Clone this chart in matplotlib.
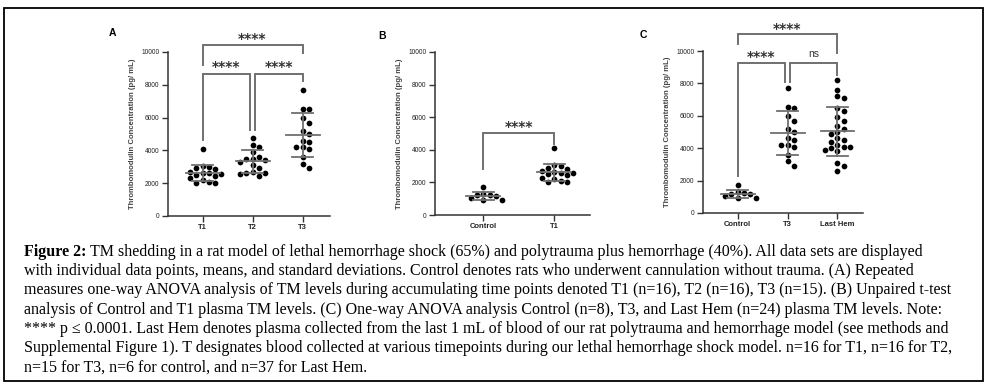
import numpy as np
import matplotlib
matplotlib.use("Agg")
import matplotlib.pyplot as plt
from matplotlib.patches import Rectangle

# ---------------- data ----------------
t1 = [4100, 3050, 3000, 2900, 2850, 2700, 2650, 2600, 2550, 2500, 2450, 2300, 2200, 2100, 2000, 2000]
t2 = [4750, 4300, 4200, 3900, 3600, 3500, 3450, 3400, 3300, 3100, 2900, 2700, 2650, 2600, 2550, 2450]
t3 = [7700, 6550, 6500, 6000, 5700, 5200, 5000, 4600, 4500, 4200, 4200, 4100, 3600, 3200, 2900]
control = [1700, 1300, 1250, 1200, 1150, 1050, 950, 900]
last_hem = [8200, 7600, 7200, 7100, 6500, 6300, 5900, 5700, 5400, 5200, 5000, 4900, 4600,
            4500, 4400, 4200, 4100, 4100, 4000, 3900, 3800, 3100, 2900, 2600]

cats_a = ["T1", "T2", "T3"]
cats_b = ["Control", "T1"]
cats_c = ["Control", "T3", "Last Hem"]
yticks = [0, 2000, 4000, 6000, 8000, 10000]
ylabel = "Thrombomodulin Concentration (pg/ mL)"

caption_lines = [
    "TM shedding in a rat model of lethal hemorrhage shock (65%) and polytrauma plus hemorrhage (40%). All data sets are displayed",
    "with individual data points, means, and standard deviations. Control denotes rats who underwent cannulation without trauma. (A) Repeated",
    "measures one-way ANOVA analysis of TM levels during accumulating time points denoted T1 (n=16), T2 (n=16), T3 (n=15). (B) Unpaired t-test",
    "analysis of Control and T1 plasma TM levels. (C) One-way ANOVA analysis Control (n=8), T3, and Last Hem (n=24) plasma TM levels. Note:",
    "**** p \u2264 0.0001. Last Hem denotes plasma collected from the last 1 mL of blood of our rat polytrauma and hemorrhage model (see methods and",
    "Supplemental Figure 1). T designates blood collected at various timepoints during our lethal hemorrhage shock model. n=16 for T1, n=16 for T2,",
    "n=15 for T3, n=6 for control, and n=37 for Last Hem.",
]

W, H = 992, 386
fig = plt.figure(figsize=(W / 100, H / 100), dpi=100)
fig.patch.set_facecolor("white")

GRAY = "#707070"
FONT = "Liberation Sans"


def px_axes(l, r, t, b):
    return fig.add_axes([l / W, 1 - b / H, (r - l) / W, (b - t) / H])


def swarm_offsets(vals, px_per_x, px_per_y, d):
    vals = np.asarray(vals, float)
    order = np.argsort(-vals)
    placed = []
    offs = np.zeros(len(vals))
    cand = [0.0]
    for k in range(1, 14):
        cand += [k * d * 0.5, -k * d * 0.5]
    for i in order:
        ypx = vals[i] * px_per_y
        for c in cand:
            ok = True
            for (px, py) in placed:
                if (px - c) ** 2 + (py - ypx) ** 2 < d ** 2:
                    ok = False
                    break
            if ok:
                offs[i] = c
                placed.append((c, ypx))
                break
    return offs / px_per_x


def panel(box, cats, groups, xlim, letter, letter_xy, mean_half_px):
    l, r, t, b = box
    ax = px_axes(l, r, t, b)
    ax.set_xlim(*xlim)
    ax.set_ylim(0, 10000)
    px_per_x = (r - l) / (xlim[1] - xlim[0])
    px_per_y = (b - t) / 10000
    d = 6.2
    mh = mean_half_px / px_per_x
    sh = (mean_half_px * 0.6) / px_per_x
    for i, g in enumerate(groups):
        g = np.asarray(g, float)
        offs = swarm_offsets(g, px_per_x, px_per_y, d)
        ax.scatter(i + offs, g, s=17, color="black", zorder=3, linewidths=0)
        m, sd = g.mean(), g.std(ddof=1)
        ax.plot([i - mh, i + mh], [m, m], color=GRAY, lw=1.3, zorder=4)
        ax.plot([i, i], [m - sd, m + sd], color=GRAY, lw=1.3, zorder=4)
        for yy in (m - sd, m + sd):
            ax.plot([i - sh, i + sh], [yy, yy], color=GRAY, lw=1.3, zorder=4)
    ax.set_xticks(range(len(cats)))
    ax.set_xticklabels(cats, fontsize=5.5, fontweight="bold", family=FONT, color="#222222")
    ax.set_yticks(yticks)
    ax.set_yticklabels([str(v) for v in yticks], fontsize=4.8, family=FONT, color="#222222")
    ax.set_ylabel(ylabel, fontsize=5.6, family=FONT, fontweight="bold", color="#444444", labelpad=4)
    for s in ("top", "right"):
        ax.spines[s].set_visible(False)
    for s in ("left", "bottom"):
        ax.spines[s].set_linewidth(1.1)
        ax.spines[s].set_color("#333333")
    ax.tick_params(length=4, width=1.0, color="#333333", pad=2)
    ax.set_facecolor("none")
    fig.text(letter_xy[0] / W, 1 - letter_xy[1] / H, letter, fontsize=7.5, fontweight="bold",
             family=FONT, ha="center", va="center")
    return ax


def bracket(ax, x1, x2, yh, y1, y2, label, ylab, fs=10):
    ax.plot([x1, x1, x2, x2], [y1, yh, yh, y2], color=GRAY, lw=1.4, clip_on=False,
            solid_joinstyle="miter")
    if label == "ns":
        ax.text((x1 + x2) / 2, ylab, label, ha="center", va="center", fontsize=7.5,
                family=FONT, color="#333333", clip_on=False)
    else:
        ax.text((x1 + x2) / 2, ylab, label, ha="center", va="center", fontsize=fs,
                family="DejaVu Sans", fontweight="bold", color="#333333", clip_on=False)


# Panel A
axA = panel((168, 330, 52, 216), cats_a, [t1, t2, t3], (-0.69, 2.55), "A", (112, 33), 17)
bracket(axA, 0, 2, 10430, 9210, 9940, "****", 10780)
bracket(axA, 0, 0.95, 8660, 4630, 5240, "****", 9070)
bracket(axA, 1.05, 2, 8660, 5240, 8230, "****", 9070)

# Panel B
axB = panel((435, 590, 52, 215), cats_b, [control, t1], (-0.68, 1.5), "B", (382, 36), 17)
bracket(axB, 0, 1, 5050, 2800, 4350, "****", 5400)

# Panel C
axC = panel((703, 863, 51, 213), cats_c, [control, t3, last_hem], (-0.69, 2.51), "C", (643, 35), 17)
bracket(axC, 0, 2, 11050, 10430, 9850, "****", 11380)
bracket(axC, 0, 0.95, 9280, 2260, 8100, "****", 9640)
bracket(axC, 1.05, 2, 9280, 8100, 8520, "ns", 9800)

# Border
fig.add_artist(Rectangle((4 / W, 1 - 381 / H), (983 - 4) / W, (381 - 8) / H,
                         transform=fig.transFigure, fill=False, edgecolor="black", lw=1.3))

# Caption
serif = "Liberation Serif"
line_y = [251.7, 271, 290, 310, 329.3, 348.3, 367.7]
x0 = 24
fs = 11.2
renderer = fig.canvas.get_renderer()
probe = fig.text(0, 0, caption_lines[5], fontsize=fs, family=serif)
wpx = probe.get_window_extent(renderer).width
probe.remove()
fs = fs * (953 - x0) / wpx
for i, line in enumerate(caption_lines):
    y = 1 - line_y[i] / H
    if i == 0:
        t0 = fig.text(x0 / W, y, "Figure 2:", fontsize=fs, family=serif, fontweight="bold",
                      va="center", ha="left")
        bw = t0.get_window_extent(renderer).width
        fig.text((x0 + bw + 4) / W, y, line, fontsize=fs, family=serif, va="center", ha="left")
    else:
        fig.text(x0 / W, y, line, fontsize=fs, family=serif, va="center", ha="left")

fig.savefig("out.png", dpi=100)
